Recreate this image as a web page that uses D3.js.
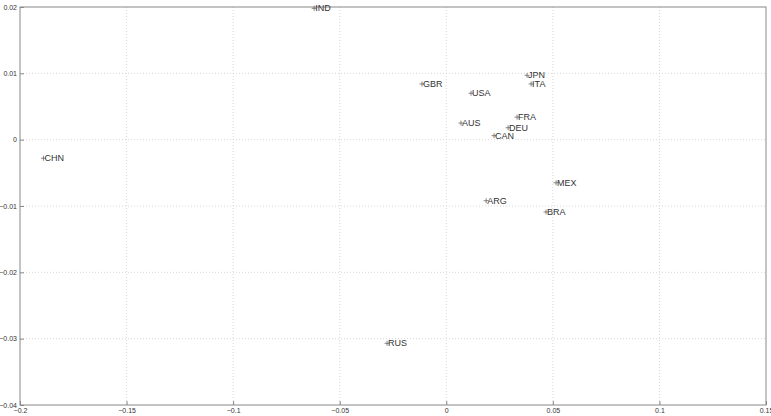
<!DOCTYPE html>
<html>
<head>
<meta charset="utf-8">
<script src="https://cdn.jsdelivr.net/npm/d3@7"></script>
<style>
  body { margin: 0; background: #fff; }
  svg { display: block; font-family: "Liberation Sans", Arial, sans-serif; }
</style>
</head>
<body>
<div id="chart"></div>
<script>
// country codes and their coordinates
const countries = ["IND", "GBR", "JPN", "ITA", "USA", "AUS", "FRA", "DEU", "CAN", "CHN", "MEX", "ARG", "BRA", "RUS"];
const xVals = [-0.062, -0.0114, 0.0379, 0.0398, 0.0116, 0.0069, 0.0332, 0.029, 0.0224, -0.189, 0.0515, 0.0187, 0.0468, -0.0278];
const yVals = [0.0198, 0.0084, 0.0097, 0.0084, 0.0070, 0.0025, 0.0034, 0.0018, 0.0006, -0.0028, -0.0065, -0.0092, -0.0109, -0.0307];
const xTicks = [-0.2, -0.15, -0.1, -0.05, 0, 0.05, 0.1, 0.15];
const yTicks = [-0.04, -0.03, -0.02, -0.01, 0, 0.01, 0.02];

const width = 771;
const height = 416;
const margin = { top: 7, right: 5, bottom: 11, left: 20 };

const points = countries.map((c, i) => ({ name: c, x: xVals[i], y: yVals[i] }));

const x = d3.scaleLinear().domain([-0.2, 0.15]).range([margin.left, width - margin.right]);
const y = d3.scaleLinear().domain([-0.04, 0.02]).range([height - margin.bottom, margin.top]);

const svg = d3.select("#chart").append("svg")
    .attr("width", width)
    .attr("height", height);

// dotted grid
svg.append("g")
    .selectAll("line")
    .data(xTicks.slice(1, -1))
    .join("line")
    .attr("x1", d => x(d)).attr("x2", d => x(d))
    .attr("y1", margin.top).attr("y2", height - margin.bottom)
    .attr("stroke", "#d8d8d8")
    .attr("stroke-dasharray", "1,2");

svg.append("g")
    .selectAll("line")
    .data(yTicks.slice(1, -1))
    .join("line")
    .attr("x1", margin.left).attr("x2", width - margin.right)
    .attr("y1", d => y(d)).attr("y2", d => y(d))
    .attr("stroke", "#d8d8d8")
    .attr("stroke-dasharray", "1,2");

const fmt = d => d === 0 ? "0" : d3.format("")(d).replace("-", "\u2212");

const xAxis = svg.append("g")
    .attr("transform", `translate(0,${height - margin.bottom})`)
    .call(d3.axisBottom(x).tickValues(xTicks).tickSize(-4).tickPadding(3).tickFormat(fmt));
const yAxis = svg.append("g")
    .attr("transform", `translate(${margin.left},0)`)
    .call(d3.axisLeft(y).tickValues(yTicks).tickSize(-4).tickPadding(3).tickFormat(fmt));

[xAxis, yAxis].forEach(a => {
    a.select(".domain").remove();
    a.selectAll("line").attr("stroke", "#888");
    a.selectAll("text").attr("fill", "#333").style("font-size", "7px");
});

// frame
svg.append("rect")
    .attr("x", margin.left)
    .attr("y", margin.top)
    .attr("width", width - margin.left - margin.right)
    .attr("height", height - margin.top - margin.bottom)
    .attr("fill", "none")
    .attr("stroke", "#888")
    .attr("stroke-width", 1);

// markers and labels
const pts = svg.append("g")
    .selectAll("g")
    .data(points)
    .join("g")
    .attr("transform", d => `translate(${x(d.x)},${y(d.y)})`);

pts.append("path")
    .attr("d", "M-2.5,0H2.5M0,-2.5V2.5")
    .attr("stroke", "#666")
    .attr("stroke-width", 0.8);

pts.append("text")
    .attr("x", 1)
    .attr("dy", "0.35em")
    .style("font-size", "9px")
    .attr("fill", "#333")
    .text(d => d.name);
</script>
</body>
</html>
